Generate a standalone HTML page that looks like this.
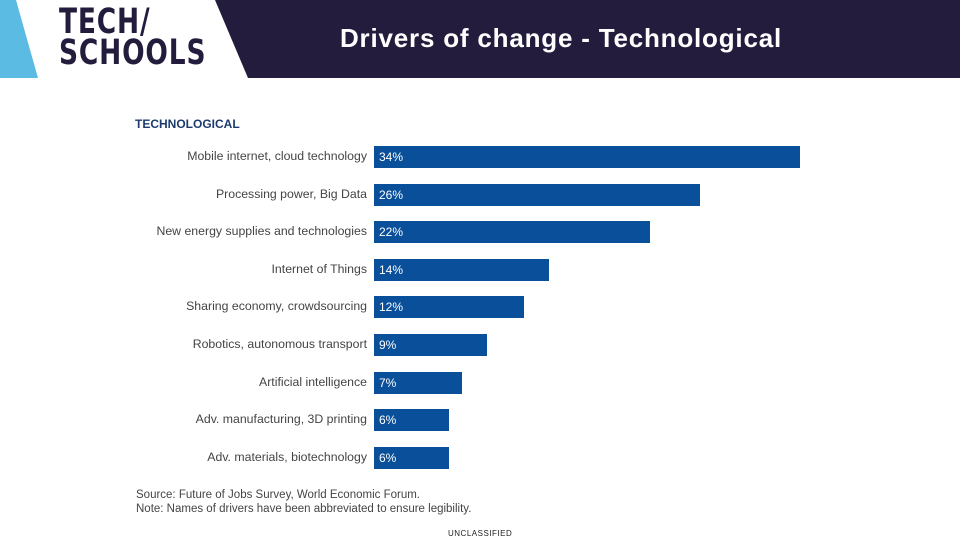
<!DOCTYPE html>
<html><head><meta charset="utf-8"><style>
body{margin:0;width:960px;height:540px;background:#fff;position:relative;overflow:hidden;font-family:"Liberation Sans",sans-serif}
.hdr{position:absolute;left:0;top:0;width:960px;height:78px}
.title{position:absolute;left:281px;width:560px;top:23px;text-align:center;color:#fff;font-size:26px;font-weight:bold;letter-spacing:0.8px;font-family:"Liberation Sans",sans-serif}
.logo{position:absolute;left:59px;top:7px;font-size:35px;line-height:31px;font-weight:bold;color:#231c3d;letter-spacing:1px;font-family:"DejaVu Sans Condensed","Liberation Sans",sans-serif;transform:scaleX(0.84);transform-origin:0 0}
.lbl{position:absolute;font-size:12.3px;color:#444;text-align:right;width:340px;left:27px}
.val{position:absolute;font-size:12px;color:#fff;left:379px}
.bar{position:absolute;background:#0a4f9a;left:374px;height:22px}
</style></head><body>
<svg class="hdr" width="960" height="78">
<polygon points="0,0 16,0 38,78 0,78" fill="#5bbbe2"/>
<polygon points="215,0 960,0 960,78 248,78" fill="#231c3d"/>
</svg>
<div class="logo">TECH/<br>SCHOOLS</div>
<div class="title">Drivers of change - Technological</div>
<div style="position:absolute;left:135px;top:117px;font-size:12px;font-weight:bold;color:#1d3c6e">TECHNOLOGICAL</div>
<div id="chart"></div>
<div style="position:absolute;left:136px;top:488px;font-size:11.5px;color:#444;line-height:14px">Source: Future of Jobs Survey, World Economic Forum.<br>Note: Names of drivers have been abbreviated to ensure legibility.</div>
<div style="position:absolute;left:448px;top:529px;font-size:8px;color:#222;letter-spacing:0.5px">UNCLASSIFIED</div>
<script>
const categories=["Mobile internet, cloud technology","Processing power, Big Data","New energy supplies and technologies","Internet of Things","Sharing economy, crowdsourcing","Robotics, autonomous transport","Artificial intelligence","Adv. manufacturing, 3D printing","Adv. materials, biotechnology"];
const values=[34,26,22,14,12,9,7,6,6];
const valueLabels=["34%","26%","22%","14%","12%","9%","7%","6%","6%"];
const chart=document.getElementById('chart');
const x=v=>v*12.53;
const y=i=>157+i*37.6;
values.forEach((v,i)=>{
 const b=document.createElement('div');b.className='bar';
 
 
 b.style.top=(y(i)-11)+'px';b.style.width=x(v)+'px';chart.appendChild(b);
 const t=document.createElement('div');t.className='val';
 
 
 t.style.top=(y(i)-7)+'px';t.textContent=valueLabels[i];chart.appendChild(t);
 const l=document.createElement('div');l.className='lbl';
 
 
 l.style.top=(y(i)-8)+'px';l.textContent=categories[i];chart.appendChild(l);
});
</script>
</body></html>
